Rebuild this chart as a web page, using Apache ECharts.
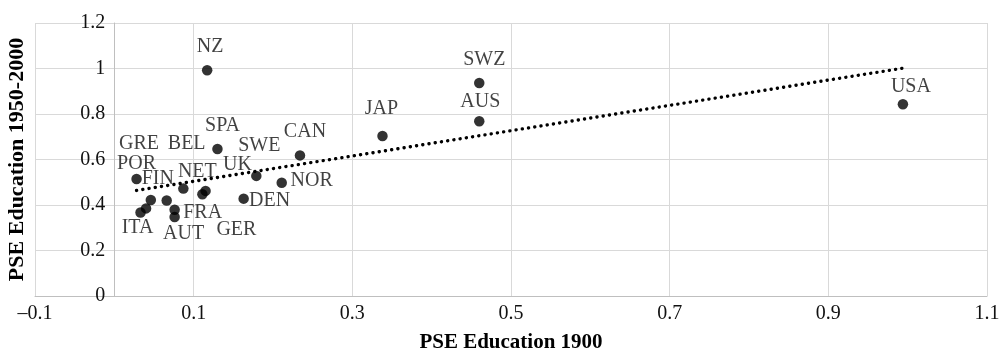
<!DOCTYPE html>
<html><head><meta charset="utf-8">
<script src="https://cdn.jsdelivr.net/npm/echarts@6/dist/echarts.min.js"></script>
<style>html,body{margin:0;padding:0;background:#fff}#c{width:1002px;height:355px}</style>
</head><body><div id="c"></div>
<script>
// ---- data ----
const countries = ['NZ','JAP','SWZ','AUS','USA','SPA','CAN','SWE','NOR','DEN','NET','POR','FIN','FRA','AUT','ITA','GER','UK','GRE','BEL'];
const pse1900 = [0.117,0.338,0.460,0.460,0.994,0.130,0.234,0.179,0.211,0.163,0.087,0.028,0.046,0.076,0.076,0.033,0.111,0.115,0.040,0.066];
const pse1950_2000 = [0.992,0.703,0.936,0.768,0.843,0.646,0.618,0.528,0.498,0.428,0.472,0.514,0.422,0.379,0.347,0.367,0.447,0.462,0.385,0.420];
const xAxisTitle = 'PSE Education 1900';
const yAxisTitle = 'PSE Education 1950-2000';
const xRange = [-0.1, 1.1];
const yRange = [0, 1.2];

// ---- layout: label offsets (px) from each dot ----
const labelOffset = {
  NZ:[3,-24], JAP:[-1,-27], SWZ:[5,-23], AUS:[1,-20], USA:[8,-17],
  SPA:[5,-23], CAN:[5,-24], SWE:[3,-30], NOR:[30,-2], DEN:[26,2],
  NET:[14,-17], POR:[0,-15], FIN:[7,-21], FRA:[28,3], AUT:[9,17],
  ITA:[-3,15], GER:[34,35], UK:[32,-26], GRE:[-7,-65], BEL:[20,-57]
};

// ---- linear trend (least squares) ----
const n = pse1900.length;
const mx = pse1900.reduce((a,b)=>a+b,0)/n;
const my = pse1950_2000.reduce((a,b)=>a+b,0)/n;
let sxy=0, sxx=0;
for (let i=0;i<n;i++){ sxy += (pse1900[i]-mx)*(pse1950_2000[i]-my); sxx += (pse1900[i]-mx)**2; }
const slope = sxy/sxx, icpt = my - slope*mx;
const xmin = Math.min(...pse1900), xmax = Math.max(...pse1900);
const trend = [[xmin, icpt+slope*xmin],[xmax, icpt+slope*xmax]];

const FONT = 'Liberation Serif';
const pts = countries.map((c,i)=>({
  name:c, value:[pse1900[i], pse1950_2000[i]],
  label:{offset: labelOffset[c]}
}));

const W = 1002, GL = 35, GR = 15;
const plotW = W - GL - GR;
// y axis sits at x = 0 : shift it inward from the grid's left edge
const yShift = -plotW * (0 - xRange[0]) / (xRange[1] - xRange[0]);

const chart = echarts.init(document.getElementById('c'), null, {renderer:'canvas'});
chart.setOption({
  animation:false,
  backgroundColor:'#fff',
  grid:{left:GL, right:GR, top:23, bottom:59, containLabel:false, outerBoundsMode:'none'},
  xAxis:{
    type:'value', min:xRange[0], max:xRange[1], interval:0.2,
    name:xAxisTitle, nameLocation:'middle', nameGap:36,
    nameTextStyle:{fontFamily:FONT, fontWeight:'bold', fontSize:21, color:'#000'},
    axisLine:{show:true, onZero:false, lineStyle:{color:'#bfbfbf', width:1}},
    axisTick:{show:false},
    axisLabel:{fontFamily:FONT, fontSize:20, color:'#111', margin:8,
      formatter:v=>{const r=Math.round(v*10)/10; return r<0?'\u2013'+Math.abs(r):String(r);}},
    splitLine:{show:true, lineStyle:{color:'#d9d9d9', width:1}}
  },
  yAxis:{
    type:'value', min:yRange[0], max:yRange[1], interval:0.2,
    offset:yShift,
    name:yAxisTitle, nameLocation:'middle', nameGap:86, nameRotate:90,
    nameTextStyle:{fontFamily:FONT, fontWeight:'bold', fontSize:22, color:'#000'},
    axisLine:{show:true, onZero:false, lineStyle:{color:'#bfbfbf', width:1}},
    axisTick:{show:false},
    axisLabel:{fontFamily:FONT, fontSize:20, color:'#111', margin:9,
      formatter:v=>String(Math.round(v*10)/10)},
    splitLine:{show:true, lineStyle:{color:'#d9d9d9', width:1}}
  },
  series:[
    {
      type:'line', data:trend, showSymbol:false, silent:true, z:1,
      lineStyle:{color:'#000', width:3.4, type:[0.1,6.2], cap:'round'}
    },
    {
      type:'scatter', data:pts, symbol:'circle', symbolSize:10.5, z:3,
      itemStyle:{color:'#000'},
      label:{show:true, position:'inside', formatter:p=>p.name,
        fontFamily:FONT, fontSize:20, color:'#111'}
    }
  ]
});
</script></body></html>
